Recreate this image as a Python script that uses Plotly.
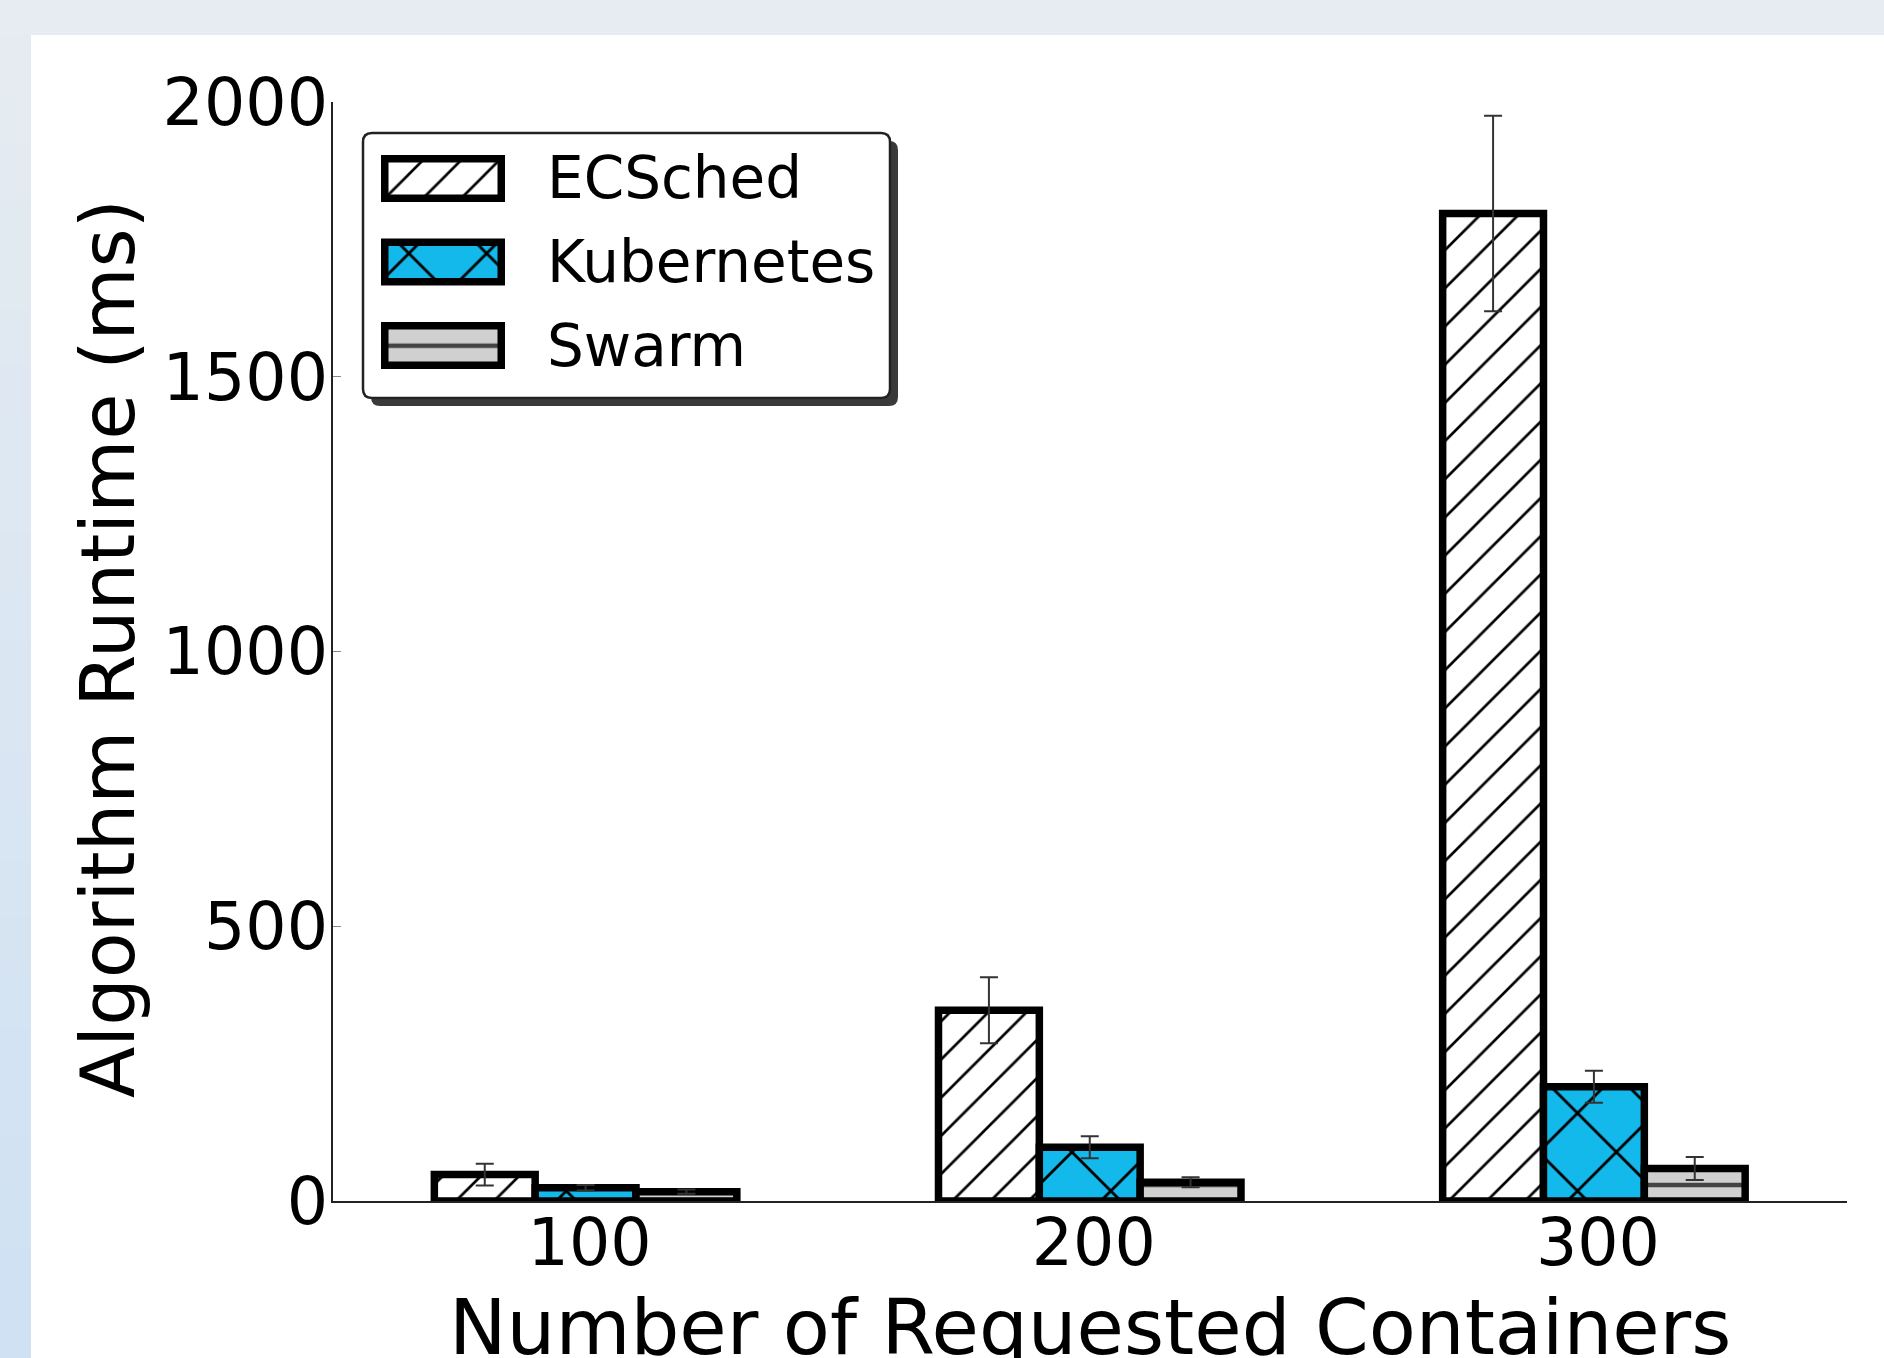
import plotly.graph_objects as go

# ---------------- data ----------------
categories = ["100", "200", "300"]
x_positions = [1, 2, 3]
series_names = ["ECSched", "Kubernetes", "Swarm"]
ecsched = [48, 347, 1797]
ecsched_err = [20, 60, 178]
kubernetes = [24, 98, 208]
kubernetes_err = [5, 20, 29]
swarm = [17, 34, 59]
swarm_err = [4, 9, 21]
y_ticks = [0, 500, 1000, 1500, 2000]
y_tick_labels = ["0", "500", "1000", "1500", "2000"]

# ---------------- layout geometry ----------------
W, H = 1884, 1358
L, R, T, B = 333, 37, 102, 157
PW = W - L - R
PH = H - T - B


def px(x):
    return (x - L) / PW


def py(y):
    return (H - B - y) / PH


FONT = "DejaVu Sans"

styles = [
    dict(color="#FFFFFF", shape="/", fg="#000000", size=27, sol=0.10),
    dict(color="#14B9EC", shape="x", fg="#000000", size=55, sol=0.10),
    dict(color="#D0D0D0", shape="-", fg="#444444", size=38, sol=0.12),
]
values = [ecsched, kubernetes, swarm]
errors = [ecsched_err, kubernetes_err, swarm_err]

fig = go.Figure()

BAR_W = 0.2
for i, (name, vals, errs, st) in enumerate(zip(series_names, values, errors, styles)):
    fig.add_trace(go.Bar(
        x=x_positions, y=vals, name=name,
        width=BAR_W, offset=-1.5 * BAR_W - 0.008 + i * BAR_W,
        marker=dict(
            color=st["color"],
            line=dict(color="#000000", width=7.5),
            pattern=dict(shape=st["shape"], fgcolor=st["fg"], bgcolor=st["color"],
                         size=st["size"], solidity=st["sol"], fillmode="replace"),
        ),
        error_y=dict(type="data", array=errs, visible=True, color="#333333",
                     thickness=2, width=9),
        showlegend=False, xaxis="x", yaxis="y",
    ))

# custom legend swatches (bars on a hidden helper axis)
for i, (name, st) in enumerate(zip(series_names, styles)):
    fig.add_trace(go.Bar(
        x=[1], y=[2 - i], base=[0], orientation="h",
        width=0.473, offset=-0.2365,
        marker=dict(
            color=st["color"],
            line=dict(color="#000000", width=7.5),
            pattern=dict(shape=st["shape"], fgcolor=st["fg"], bgcolor=st["color"],
                         size=st["size"], solidity=st["sol"], fillmode="replace"),
        ),
        showlegend=False, hoverinfo="skip", xaxis="x2", yaxis="y2",
    ))

# ---------------- shapes ----------------
shapes = []
# white panel
shapes.append(dict(type="rect", xref="paper", yref="paper", layer="below",
                   x0=px(31), x1=px(W), y0=py(H), y1=py(35),
                   fillcolor="#FFFFFF", line=dict(width=0)))
# left strip gradient
n_bands = 24
c_top = (229, 235, 241)
c_bot = (207, 225, 243)
y_start, y_end = 35, H
for k in range(n_bands):
    t = k / (n_bands - 1)
    c = tuple(int(round(c_top[j] + (c_bot[j] - c_top[j]) * t)) for j in range(3))
    ya = y_start + (y_end - y_start) * k / n_bands
    yb = y_start + (y_end - y_start) * (k + 1) / n_bands
    shapes.append(dict(type="rect", xref="paper", yref="paper", layer="below",
                       x0=px(0), x1=px(31), y0=py(yb + 1), y1=py(ya),
                       fillcolor="rgb(%d,%d,%d)" % c, line=dict(width=0)))


def rrect(x0, y0, x1, y1, r):
    def P(x, y):
        return "%.5f,%.5f" % (px(x), py(y))
    return ("M" + P(x0 + r, y0) + " L" + P(x1 - r, y0) + " Q" + P(x1, y0) + " " + P(x1, y0 + r) +
            " L" + P(x1, y1 - r) + " Q" + P(x1, y1) + " " + P(x1 - r, y1) +
            " L" + P(x0 + r, y1) + " Q" + P(x0, y1) + " " + P(x0, y1 - r) +
            " L" + P(x0, y0 + r) + " Q" + P(x0, y0) + " " + P(x0 + r, y0) + " Z")


# legend shadow and box
shapes.append(dict(type="path", xref="paper", yref="paper", layer="below",
                   path=rrect(371, 141, 898, 406, 9), fillcolor="#3A3A3A", line=dict(width=0)))
shapes.append(dict(type="path", xref="paper", yref="paper", layer="below",
                   path=rrect(363, 133, 890, 398, 9), fillcolor="#FFFFFF",
                   line=dict(color="#222222", width=2.5)))

# ---------------- annotations ----------------
annotations = []
legend_centers = [178.5, 262, 345.5]
for name, yc in zip(series_names, legend_centers):
    annotations.append(dict(text=name, xref="paper", yref="paper", x=px(545), y=py(yc),
                            xanchor="left", yanchor="middle", showarrow=False,
                            font=dict(family=FONT, size=58, color="#000000")))
annotations.append(dict(text="Algorithm Runtime (ms)", xref="paper", yref="paper",
                        x=px(108), y=py(649), xanchor="center", yanchor="middle",
                        textangle=-90, showarrow=False,
                        font=dict(family=FONT, size=75, color="#000000")))
annotations.append(dict(text="Number of Requested Containers", xref="paper", yref="paper",
                        x=px(1090), y=py(1327), xanchor="center", yanchor="middle",
                        showarrow=False,
                        font=dict(family=FONT, size=77, color="#000000")))

fig.update_layout(
    width=W, height=H, autosize=False,
    margin=dict(l=L, r=R, t=T, b=B, pad=0),
    paper_bgcolor="rgb(230,236,241)",
    plot_bgcolor="rgba(0,0,0,0)",
    barmode="overlay",
    showlegend=False,
    font=dict(family=FONT, size=65, color="#000000"),
    shapes=shapes,
    annotations=annotations,
    xaxis=dict(
        range=[0.491, 3.494], tickvals=x_positions, ticktext=categories,
        showline=True, linecolor="#222222", linewidth=2, mirror=False,
        showgrid=False, zeroline=False, ticks="", fixedrange=True,
        ticklabelstandoff=-16,
        tickfont=dict(family=FONT, size=65, color="#000000"),
    ),
    yaxis=dict(
        range=[0, 2000], tickvals=y_ticks, ticktext=y_tick_labels,
        showline=True, linecolor="#222222", linewidth=2, mirror=False,
        showgrid=False, zeroline=False, ticks="inside", ticklen=8,
        tickcolor="#888888", tickwidth=1, fixedrange=True,
        ticklabelstandoff=-10,
        tickfont=dict(family=FONT, size=65, color="#000000"),
    ),
    xaxis2=dict(domain=[px(370), px(516)], range=[(370 - 384.75) / 116.5, (516 - 384.75) / 116.5],
                visible=False, anchor="y2", fixedrange=True),
    yaxis2=dict(domain=[py(136.75 + 250.5), py(136.75)], range=[-0.5, 2.5],
                visible=False, anchor="x2", fixedrange=True),
)

fig.write_html("out.html",
               config={"displayModeBar": False, "staticPlot": True},
               post_script="document.body.style.margin='0px'; document.body.style.overflow='hidden';")
